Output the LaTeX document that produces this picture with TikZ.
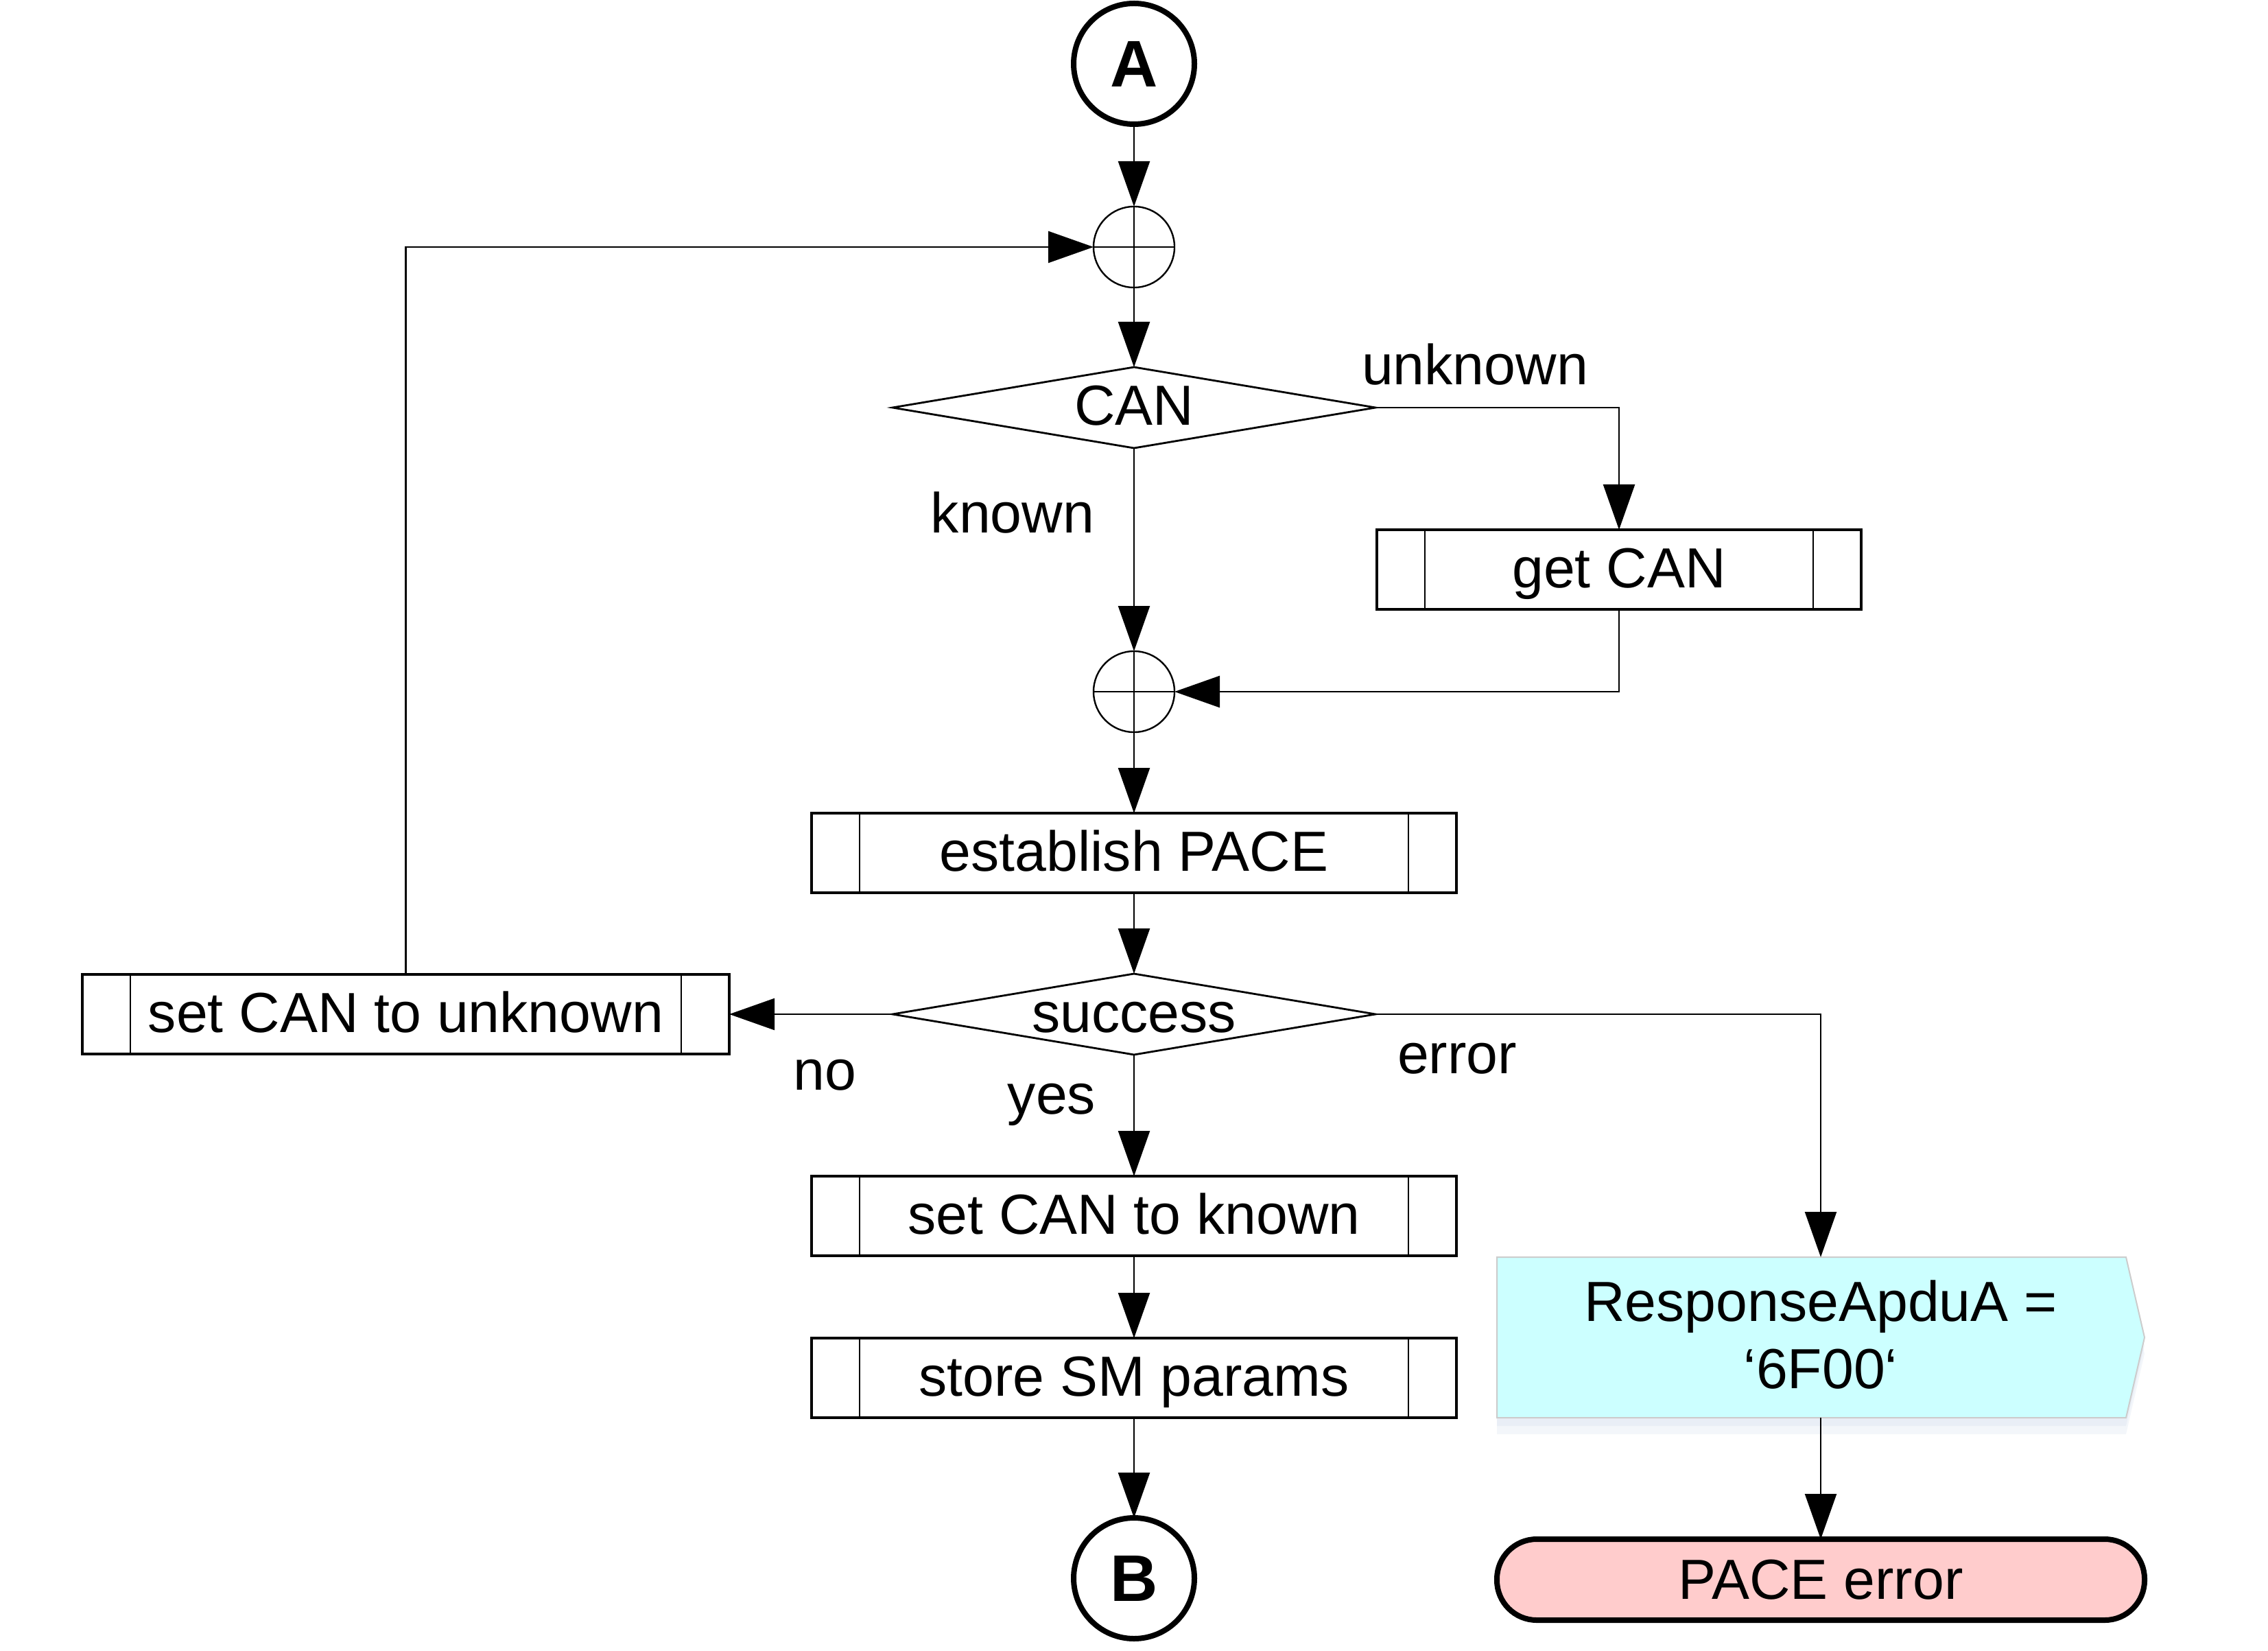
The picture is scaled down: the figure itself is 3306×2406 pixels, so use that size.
\documentclass[tikz,border=0pt]{standalone}
\usepackage{fontspec}
\setmainfont{Liberation Sans}
\usetikzlibrary{arrows.meta}
\definecolor{respfill}{HTML}{CCFFFF}
\definecolor{errfill}{HTML}{FFCCCC}
\definecolor{shadowc}{HTML}{9DB4D6}
\begin{document}
\begin{tikzpicture}[x=0.25pt,y=-0.25pt,
  every node/.style={inner sep=0pt, outer sep=0pt, font=\fontsize{20.6}{24.3}\selectfont},
  conn/.style={line width=0.6pt, -{Triangle[length=16.5pt,width=11.5pt]}},
  subbox/.style={draw, line width=0.8pt, minimum height=29pt, text height=13pt, text depth=0pt,
    path picture={
      \draw[line width=0.6pt] ([xshift=17.5pt]path picture bounding box.north west) -- ([xshift=17.5pt]path picture bounding box.south west);
      \draw[line width=0.6pt] ([xshift=-17.5pt]path picture bounding box.north east) -- ([xshift=-17.5pt]path picture bounding box.south east);}},
  junc/.style={circle, draw, line width=0.6pt, minimum size=29.5pt,
    path picture={\draw[line width=0.6pt] (path picture bounding box.north) -- (path picture bounding box.south)
      (path picture bounding box.west) -- (path picture bounding box.east);}},
  term/.style={circle, draw, line width=2pt, minimum size=44pt, font=\fontsize{24}{24}\selectfont\bfseries},
  decis/.style={minimum width=176pt, minimum height=29.5pt, text height=13pt, text depth=0pt},
  decline/.style={line width=0.7pt},
  lbl/.style={anchor=base}
]
\useasboundingbox (0,0) rectangle (3306,2406);

\node[term] (A) at (1653,93) {A};
\node[junc] (j1) at (1653,360) {};
\node[decis] (can) at (1653,594) {CAN};
\draw[decline] (can.west) -- (can.north) -- (can.east) -- (can.south) -- cycle;
\node[subbox, minimum width=176.5pt] (getcan) at (2360,830) {get CAN};
\node[junc] (j2) at (1653,1008) {};
\node[subbox, minimum width=235pt] (estab) at (1653,1243) {establish PACE};
\node[decis] (succ) at (1653,1478) {success};
\draw[decline] (succ.west) -- (succ.north) -- (succ.east) -- (succ.south) -- cycle;
\node[subbox, minimum width=235.75pt] (setunk) at (591.5,1478) {set CAN to unknown};
\node[subbox, minimum width=235pt] (setknown) at (1653,1772) {set CAN to known};
\node[subbox, minimum width=235pt] (store) at (1653,2008) {store SM params};
\node[term] (B) at (1653,2300) {B};

\node[minimum width=236pt, minimum height=58.5pt] (resp) at (2654,1949) {};
\fill[shadowc, opacity=0.12] ([yshift=-6pt]resp.north west) -- ([xshift=-6.75pt,yshift=-6pt]resp.north east) -- ([yshift=-6pt]resp.east) -- ([xshift=-6.75pt,yshift=-6pt]resp.south east) -- ([yshift=-6pt]resp.south west) -- cycle;
\fill[shadowc, opacity=0.12] ([yshift=-3pt]resp.north west) -- ([xshift=-6.75pt,yshift=-3pt]resp.north east) -- ([yshift=-3pt]resp.east) -- ([xshift=-6.75pt,yshift=-3pt]resp.south east) -- ([yshift=-3pt]resp.south west) -- cycle;
\draw[draw=gray!40, fill=respfill, line width=0.5pt] (resp.north west) -- ([xshift=-6.75pt]resp.north east) -- (resp.east) -- ([xshift=-6.75pt]resp.south east) -- (resp.south west) -- cycle;
\node[align=center] (resptext) at (2654,1945) {ResponseApduA =\\‘6F00‘};

\node[draw, line width=2pt, fill=errfill, rounded corners=14.5pt, minimum width=236pt, minimum height=29.5pt, text height=14pt, text depth=0pt] (err) at (2654,2302) {PACE error};

\node[lbl] (lunknown) at (2150,561) {unknown};
\node[lbl] (lknown) at (1476,776) {known};
\node[lbl] (lno) at (1202,1588) {no};
\node[lbl] (lyes) at (1533,1623) {yes};
\node[lbl] (lerror) at (2124,1564) {error};

\draw[conn] (A) -- (j1);
\draw[conn] (j1) -- (can.north);
\draw[conn] (can.east) -| (getcan.north);
\draw[conn] (can.south) -- (j2);
\draw[conn] (getcan.south) |- (j2.east);
\draw[conn] (j2) -- (estab);
\draw[conn] (estab) -- (succ.north);
\draw[conn] (succ.west) -- (setunk.east);
\draw[conn] (setunk.north) |- (j1.west);
\draw[conn] (succ.south) -- (setknown);
\draw[conn] (succ.east) -| (resp.north);
\draw[conn] (setknown) -- (store);
\draw[conn] (store) -- (B);
\draw[conn] (resp.south) -- (err);
\end{tikzpicture}
\end{document}
